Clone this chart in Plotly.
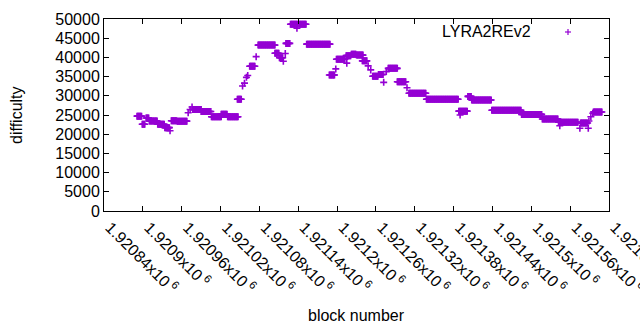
import plotly.graph_objects as go

# Difficulty runs: (first block, last block, difficulty)
run_start = [1920891, 1920899, 1920905, 1920910, 1920923, 1920934, 1920942, 1920944, 1920953, 1920970,
             1920973, 1920976, 1920977, 1920990, 1921006, 1921021, 1921031, 1921046, 1921054, 1921057,
             1921060, 1921062, 1921065, 1921075, 1921078, 1921104, 1921111, 1921117, 1921120, 1921121,
             1921128, 1921138, 1921141, 1921153, 1921188, 1921198, 1921199, 1921215, 1921214, 1921222,
             1921230, 1921239, 1921248, 1921252, 1921255, 1921264, 1921272, 1921276, 1921279, 1921293,
             1921308, 1921311, 1921338, 1921390, 1921388, 1921402, 1921408, 1921439, 1921485, 1921517,
             1921544, 1921542, 1921575, 1921576, 1921588, 1921589, 1921592, 1921595, 1921596]
run_end = [1920898, 1920903, 1920909, 1920922, 1920933, 1920941, 1920942, 1920952, 1920968, 1920970,
           1920973, 1920976, 1920990, 1921005, 1921021, 1921030, 1921047, 1921052, 1921054, 1921057,
           1921060, 1921062, 1921073, 1921075, 1921104, 1921110, 1921116, 1921117, 1921120, 1921127,
           1921139, 1921138, 1921152, 1921189, 1921196, 1921198, 1921212, 1921215, 1921221, 1921229,
           1921240, 1921246, 1921248, 1921252, 1921263, 1921271, 1921272, 1921276, 1921293, 1921306,
           1921308, 1921337, 1921387, 1921390, 1921401, 1921407, 1921438, 1921484, 1921516, 1921541,
           1921544, 1921572, 1921575, 1921587, 1921588, 1921589, 1921592, 1921595, 1921609]
run_difficulty = [24700, 22600, 24200, 23450, 22600, 21700, 20900, 23500, 23400, 25600,
                  26450, 27100, 26450, 25900, 24550, 25200, 24550, 29100, 32550, 33300,
                  34800, 35300, 37700, 40200, 43200, 41100, 39900, 39000, 41000, 43650,
                  48650, 47600, 48650, 43450, 35400, 37000, 39500, 38500, 40450, 40850,
                  40600, 39100, 37800, 36750, 35100, 35550, 33500, 36300, 37150, 33650,
                  32100, 30650, 29100, 25000, 26000, 29850, 28900, 26250, 25150, 23950,
                  22200, 23100, 21550, 22900, 21550, 23450, 24550, 25450, 25800]

x_tick_values = [1920840 + 60 * k for k in range(14)]
x_tick_labels = ["1.92084", "1.9209", "1.92096", "1.92102", "1.92108", "1.92114", "1.9212",
                 "1.92126", "1.92132", "1.92138", "1.92144", "1.9215", "1.92156", "1.92162"]
y_tick_values = [0, 5000, 10000, 15000, 20000, 25000, 30000, 35000, 40000, 45000, 50000]

blocks, difficulty = [], []
for s, e, d in zip(run_start, run_end, run_difficulty):
    for b in range(s, e + 1):
        blocks.append(b)
        difficulty.append(d)

PURPLE = "#9400D3"
FONT = "Liberation Sans, Arial, sans-serif"

fig = go.Figure()
fig.add_trace(go.Scatter(
    x=blocks, y=difficulty, mode="markers", name="LYRA2REv2",
    marker=dict(symbol="cross-thin-open", size=5, color=PURPLE,
                line=dict(color=PURPLE, width=1.6)),
    showlegend=False,
))

axis_common = dict(showline=True, linecolor="black", linewidth=1, mirror="ticks",
                   ticks="inside", ticklen=5, tickcolor="black", showgrid=False,
                   zeroline=False, automargin=False, ticklabeloverflow="allow",
                   tickfont=dict(family=FONT, size=16, color="black"))

fig.update_xaxes(range=[1920840, 1921620], tickvals=x_tick_values,
                 ticktext=[t + "x10<sup> 6</sup>" for t in x_tick_labels],
                 tickangle=45, ticklabelshift=6, **axis_common)
fig.update_yaxes(range=[0, 50000], tickvals=y_tick_values,
                 ticktext=[str(v) for v in y_tick_values], **axis_common)

# legend: text + key sample
fig.add_annotation(x=0.8495, y=0.9323, xref="paper", yref="paper", text="LYRA2REv2",
                   showarrow=False, xanchor="right", yanchor="middle",
                   font=dict(family=FONT, size=16, color="black"))
fig.add_shape(type="line", xref="paper", yref="paper", x0=0.9129, x1=0.9248, y0=0.9323, y1=0.9323,
              line=dict(color=PURPLE, width=1.2))
fig.add_shape(type="line", xref="paper", yref="paper", x0=0.9188, x1=0.9188, y0=0.9167, y1=0.948,
              line=dict(color=PURPLE, width=1.2))

fig.add_annotation(x=0.5, y=-0.5417, xref="paper", yref="paper", text="block number",
                   showarrow=False, xanchor="center", yanchor="middle",
                   font=dict(family=FONT, size=16, color="black"))
fig.add_annotation(x=-0.1743, y=0.5, xref="paper", yref="paper", text="difficulty",
                   showarrow=False, xanchor="center", yanchor="middle", textangle=-90,
                   font=dict(family=FONT, size=16, color="black"))

fig.update_layout(width=640, height=330, margin=dict(l=104, r=31, t=19, b=119),
                  paper_bgcolor="white", plot_bgcolor="white")

fig.write_html("out.html", config={"displayModeBar": False},
               post_script="document.body.style.margin='0';document.body.style.overflow='hidden';")
